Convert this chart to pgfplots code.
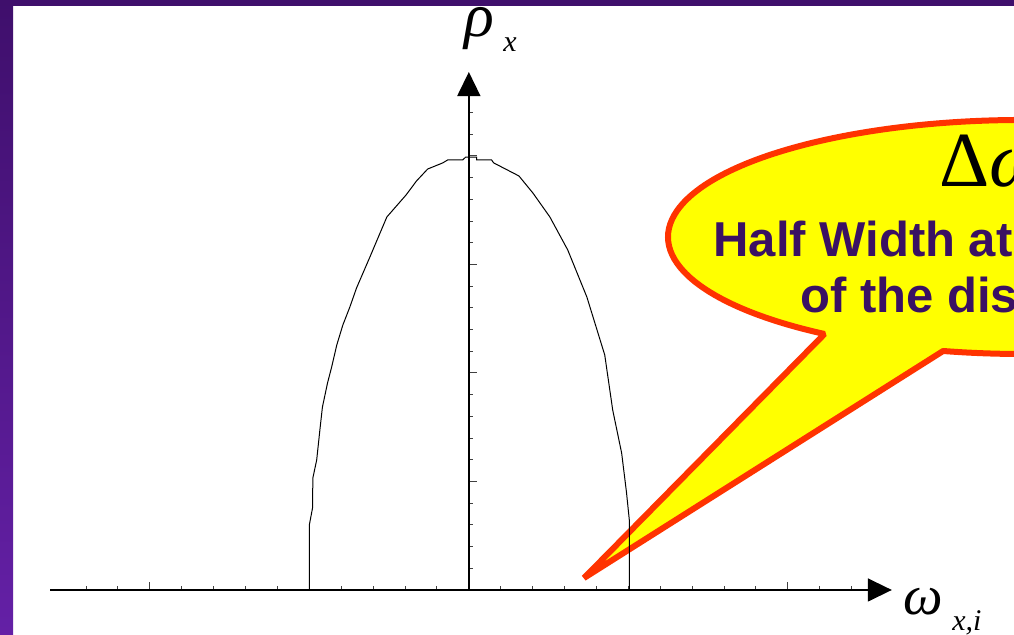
\documentclass[border=0pt]{standalone}
\usepackage{fontspec}
\setmainfont{Liberation Serif}
\newfontfamily\sansb{Liberation Sans}
\usepackage{pgfplots}
\usepackage{pgfplotstable}
\pgfplotsset{compat=1.18}
\usetikzlibrary{arrows.meta,calc}
\definecolor{frametop}{HTML}{3F0F6C}
\definecolor{framebot}{HTML}{6420A6}
\definecolor{bubblered}{HTML}{FF3300}
\definecolor{bubbleyel}{HTML}{FFFF00}
\definecolor{txtpurple}{HTML}{3A1163}

\pgfplotstableread{
x y
-5.00 0
-5.00 3.00
-4.90 3.78
-4.89 5.16
-4.77 5.99
-4.67 7.37
-4.59 8.43
-4.43 9.54
-4.30 10.28
-4.14 11.29
-3.95 12.21
-3.73 13.04
-3.52 13.92
-3.10 15.35
-2.85 16.22
-2.57 17.19
-1.97 18.20
-1.64 18.85
-1.29 19.40
-0.82 19.68
-0.66 19.82
-0.19 19.82
-0.10 19.95
0.24 19.95
0.24 19.82
0.71 19.82
0.78 19.68
1.57 19.08
2.01 18.29
2.54 17.19
3.10 15.67
3.70 13.50
4.26 10.83
4.51 8.29
4.79 6.31
4.94 4.52
5.03 3.23
5.03 0
}\curvedata

\begin{document}
\begin{tikzpicture}[x=0.5pt,y=0.5pt]
\path[use as bounding box] (0,0) rectangle (1014,635);
\clip (0,0) rectangle (1014,635);
\fill[white] (0,0) rectangle (1014,635);
\shade[top color=frametop, bottom color=framebot] (0,0) rectangle (13,635);
\fill[frametop] (0,629) rectangle (1014,635);
% speech bubble (drawn below the chart, as in the reference)
\filldraw[fill=bubbleyel, draw=bubblered, line width=3pt, line join=bevel]
  ($(1023,398)+(257:355 and 117)$) arc[start angle=257, end angle=596, x radius=355, y radius=117] -- (584,57) -- cycle;
\coordinate (SW) at (50,45);
\begin{axis}[
  at={(SW)}, anchor=south west,
  x=15.95pt, y=10.85pt,
  xmin=-13.13, xmax=13.26, ymin=0, ymax=23.87,
  axis lines=middle,
  axis line style={line width=0.75pt, -{Triangle[length=12pt,width=11.5pt]}},
  tick align=inside,
  xtick={-10,10}, minor xtick={-12,...,12},
  ytick={5,10,15,20}, minor ytick={1,...,22},
  xticklabels={}, yticklabels={},
  major tick length=4pt, minor tick length=2pt,
  tick style={black!75, line width=0.5pt},
  clip=false,
]
\addplot[black, line width=0.5pt] table {\curvedata};
\end{axis}
\node[anchor=base west, inner sep=0, font=\fontsize{39}{42}\selectfont] at (939,448) {Δ\textit{ω}};
\node[anchor=base west, inner sep=0, text=txtpurple, font=\sansb\bfseries\fontsize{24.5}{28}\selectfont] at (713,378) {Half Width at Half Maximum};
\node[anchor=base west, inner sep=0, text=txtpurple, font=\sansb\bfseries\fontsize{24.5}{28}\selectfont] at (800,322) {of the distribution};
\node[anchor=base west, inner sep=0, font=\fontsize{31}{33}\selectfont\itshape] at (464,598) {ρ};
\node[anchor=base west, inner sep=0, font=\fontsize{15}{17}\selectfont\itshape] at (503,583) {x};
\node[anchor=base west, inner sep=0, font=\fontsize{28}{30}\selectfont\itshape] at (903,20) {ω};
\node[anchor=base west, inner sep=0, font=\fontsize{15}{17}\selectfont\itshape] at (952,4) {x,i};
\end{tikzpicture}
\end{document}
